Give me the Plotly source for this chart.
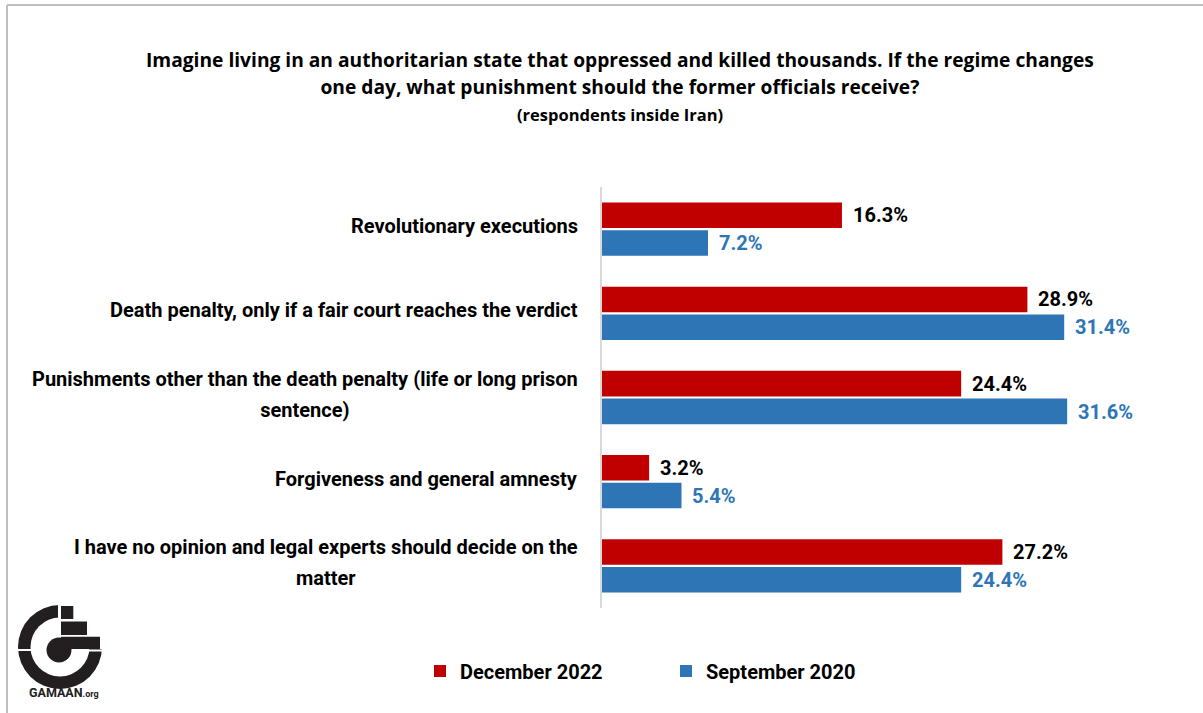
import plotly.graph_objects as go

# Survey answers (top to bottom) and shares in percent
categories = [
    "Revolutionary executions",
    "Death penalty, only if a fair court reaches the verdict",
    "Punishments other than the death penalty (life or long prison<br>sentence)",
    "Forgiveness and general amnesty",
    "I have no opinion and legal experts should decide on the<br>matter",
]
dec_2022 = [16.3, 28.9, 24.4, 3.2, 27.2]
sep_2020 = [7.2, 31.4, 31.6, 5.4, 24.4]
series_names = ["December 2022", "September 2020"]

RED = "#C00000"
BLUE = "#2E75B6"
W, H = 1203, 713
L, R, T, B = 602, 23, 187, 105
PW, PH = W - L - R, H - T - B


def fx(px):
    return (px - L) / PW


def fy(py):
    return (H - B - py) / PH


def spaced(text, size, line_px):
    """Wrap each line in a span of the given size; the outer font size sets the line pitch."""
    return "<br>".join(f"<span style='font-size:{size}px'>{ln}</span>" for ln in text.split("<br>")), line_px / 1.3


fig = go.Figure()
fig.add_trace(go.Bar(y=categories, x=dec_2022, name=series_names[0], orientation="h",
                     marker=dict(color=RED, line=dict(width=0))))
fig.add_trace(go.Bar(y=categories, x=sep_2020, name=series_names[1], orientation="h",
                     marker=dict(color=BLUE, line=dict(width=0))))

annotations = []

# Category labels: block right aligned against the axis, lines centred within the block
for cat in categories:
    txt, outer = spaced(cat, 20, 31)
    annotations.append(dict(xref="paper", yref="y", x=0, y=cat, text=txt,
                            xanchor="right", yanchor="middle", align="center",
                            xshift=-22, yshift=3, showarrow=False,
                            font=dict(family="Roboto", size=outer, color="#000000", weight="bold")))

# Value labels next to each bar
for cat, v in zip(categories, dec_2022):
    annotations.append(dict(xref="x", yref="y", x=v, y=cat, text=f"{v:.1f}%",
                            xanchor="left", yanchor="middle", xshift=9, yshift=14,
                            showarrow=False,
                            font=dict(family="Roboto", size=20, color="#000000", weight="bold")))
for cat, v in zip(categories, sep_2020):
    annotations.append(dict(xref="x", yref="y", x=v, y=cat, text=f"{v:.1f}%",
                            xanchor="left", yanchor="middle", xshift=9, yshift=-14,
                            showarrow=False,
                            font=dict(family="Roboto", size=20, color=BLUE, weight="bold")))

# Title block
TITLE_FONT = "Open Sans, sans-serif"
title_txt, title_outer = spaced(
    "Imagine living in an authoritarian state that oppressed and killed thousands. If the regime changes"
    "<br>one day, what punishment should the former officials receive?", 19.2, 27)
annotations.append(dict(xref="paper", yref="paper", x=fx(620), y=fy(72.5), text=title_txt,
                        xanchor="center", yanchor="middle", showarrow=False,
                        font=dict(family=TITLE_FONT, size=title_outer, color="#000000", weight="bold")))
annotations.append(dict(xref="paper", yref="paper", x=fx(620), y=fy(114),
                        text="(respondents inside Iran)", xanchor="center", yanchor="middle",
                        showarrow=False,
                        font=dict(family=TITLE_FONT, size=16.5, color="#000000", weight="bold")))

# Logo caption
annotations.append(dict(xref="paper", yref="paper", x=fx(64), y=fy(692),
                        text="GAMAAN<span style='font-size:9px'>.org</span>",
                        xanchor="center", yanchor="middle", showarrow=False,
                        font=dict(family="Roboto", size=12.5, color="#222222", weight="bold")))

shapes = []
# Frame lines at top and left
shapes.append(dict(type="line", xref="paper", yref="paper", x0=fx(7), x1=fx(1203), y0=fy(5), y1=fy(5),
                   line=dict(color="#BFBFBF", width=2)))
shapes.append(dict(type="line", xref="paper", yref="paper", x0=fx(7), x1=fx(7), y0=fy(5), y1=fy(713),
                   line=dict(color="#BFBFBF", width=2)))


def rect(x0, y0, x1, y1, color, kind="rect"):
    return dict(type=kind, xref="paper", yref="paper", x0=fx(x0), x1=fx(x1), y0=fy(y1), y1=fy(y0),
                fillcolor=color, line=dict(width=0), layer="above")


# Logo mark
LOGO = "#231F20"
cx, cy = 60, 647
shapes.append(rect(cx - 42, cy - 42, cx + 42, cy + 42, LOGO, "circle"))
shapes.append(rect(cx - 29.5, cy - 29.5, cx + 29.5, cy + 29.5, "white", "circle"))
shapes.append(rect(58, 600, 104, 649, "white"))
shapes.append(rect(46.5, 637.5, 71.5, 662.5, LOGO, "circle"))
shapes.append(rect(61, 606, 73.3, 619, LOGO))
shapes.append(rect(61, 621.5, 87, 635, LOGO))
shapes.append(rect(61, 636.7, 100, 649, LOGO))
shapes.append(dict(type="line", xref="paper", yref="paper", x0=fx(17), x1=fx(46), y0=fy(650), y1=fy(650),
                   line=dict(color="white", width=2), layer="above"))
shapes.append(dict(type="line", xref="paper", yref="paper", x0=fx(72), x1=fx(103), y0=fy(650.5), y1=fy(650.5),
                   line=dict(color="white", width=2), layer="above"))

fig.update_layout(
    width=W, height=H,
    margin=dict(l=L, r=R, t=T, b=B, pad=0),
    paper_bgcolor="white", plot_bgcolor="white",
    barmode="group", bargap=0.34, bargroupgap=0.08,
    xaxis=dict(range=[0, PW / 14.72], visible=False, fixedrange=True),
    yaxis=dict(autorange="reversed", showticklabels=False, ticks="", showgrid=False,
               showline=True, linecolor="#D9D9D9", linewidth=2, zeroline=False),
    showlegend=True,
    legend=dict(orientation="h", x=fx(420), y=fy(671), xanchor="left", yanchor="middle",
                entrywidth=201, font=dict(family="Roboto", size=20, color="#000000", weight="bold"),
                bgcolor="rgba(0,0,0,0)", itemclick=False),
    annotations=annotations,
    shapes=shapes,
)

fig.write_html("out.html")
